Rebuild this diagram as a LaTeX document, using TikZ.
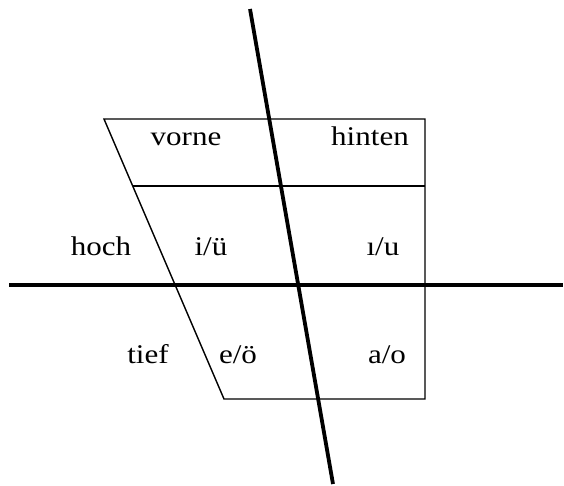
\documentclass[tikz,border=0pt]{standalone}
\usepackage{fontspec}
\setmainfont{Liberation Serif}[FakeStretch=1.15]

\begin{document}
\begin{tikzpicture}[x=1pt,y=-1pt]
  \useasboundingbox (0,0) rectangle (564,486);
  \tikzset{edge/.style={draw=black,line width=1.4pt,line join=miter},
           axis/.style={draw=black,line width=3.8pt},
           vowel/.style={anchor=base,inner sep=0pt,font=\fontsize{27}{32}\selectfont}}
  % trapezoid
  \draw[edge] (104,119)--(425,119)--(425,399)--(224,399)--cycle;
  \draw[edge] (132.7,186)--(425,186);
  % axes
  \coordinate (l) at (9,285);
  \coordinate (r) at (563,285);
  \coordinate (u) at (250,9);
  \coordinate (d) at (333,484);
  \draw[axis] (l)--(r);
  \draw[axis] (u)--(d);
  % labels
  \node[vowel] (vorne) at (186,146) {vorne};
  \node[vowel] (hinten) at (370,146) {hinten};
  \node[vowel] (hoch) at (101,255) {hoch};
  \node[vowel] (iue) at (211,255) {i/ü};
  \node[vowel] (iu) at (383,255) {ı/u};
  \node[vowel] (tief) at (148,363) {tief};
  \node[vowel] (eoe) at (238,363) {e/ö};
  \node[vowel] (ao) at (387,363) {a/o};
\end{tikzpicture}
\end{document}
